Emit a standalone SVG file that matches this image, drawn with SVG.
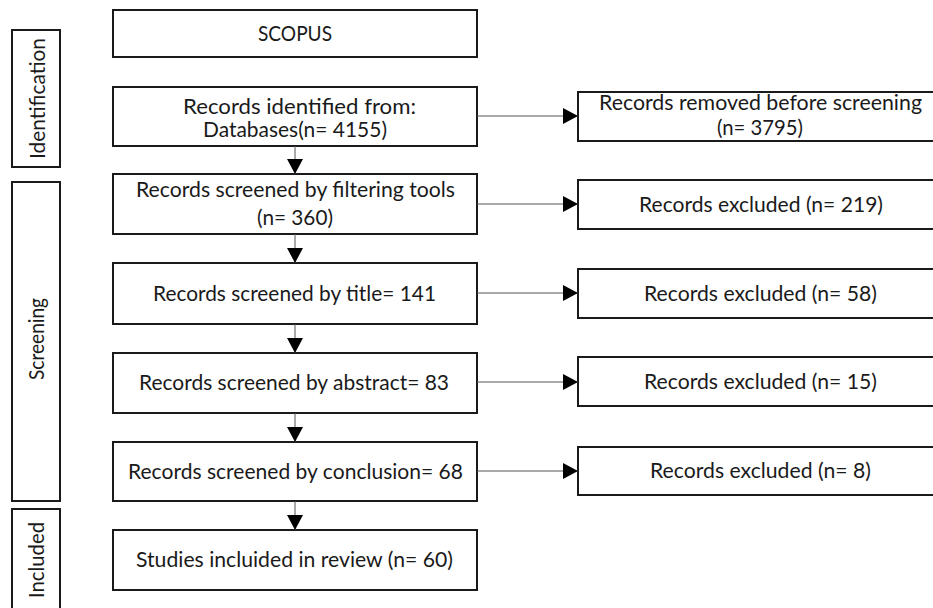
<svg xmlns="http://www.w3.org/2000/svg" width="933" height="608" viewBox="0 0 933 608">
<defs>
<style>
.box{fill:#fff;stroke:#1a1a1a;stroke-width:2}
.t{font-family:Lato,"Open Sans","Liberation Sans",sans-serif;font-size:21px;fill:#1a1a1a;text-anchor:middle}
.c{stroke:#555;stroke-width:1;fill:none}
</style>
<marker id="ah" markerUnits="userSpaceOnUse" markerWidth="15" markerHeight="16" refX="15" refY="8" orient="auto" viewBox="0 0 15 16">
<path d="M0,0 L15,8 L0,16 z" fill="#000"/>
</marker>
</defs>
<rect width="933" height="608" fill="#fff"/>

<g id="phase-identification">
<rect class="box" x="12" y="30" width="48" height="137"/>
<text class="t" transform="translate(45,98.5) rotate(-90)" textLength="121" lengthAdjust="spacingAndGlyphs">Identification</text>
</g>
<g id="phase-screening">
<rect class="box" x="12" y="182" width="48" height="319"/>
<text class="t" transform="translate(44,339) rotate(-90)" textLength="82" lengthAdjust="spacingAndGlyphs">Screening</text>
</g>
<g id="phase-included">
<rect class="box" x="12" y="509" width="48" height="110"/>
<text class="t" transform="translate(44,560) rotate(-90)" textLength="76" lengthAdjust="spacingAndGlyphs">Included</text>
</g>

<g id="scopus">
<rect class="box" x="113" y="10" width="364" height="47"/>
<text class="t" x="295" y="41" textLength="74" lengthAdjust="spacingAndGlyphs">SCOPUS</text>
</g>
<g id="identified">
<rect class="box" x="113" y="87" width="364" height="59"/>
<text class="t" x="299.5" y="114" textLength="233" lengthAdjust="spacingAndGlyphs">Records identified from:</text>
<text class="t" x="295" y="137" textLength="184" lengthAdjust="spacingAndGlyphs">Databases(n= 4155)</text>
</g>
<g id="filtering">
<rect class="box" x="113" y="174" width="364" height="60"/>
<text class="t" x="295.5" y="197" textLength="319" lengthAdjust="spacingAndGlyphs">Records screened by filtering tools</text>
<text class="t" x="295" y="225" textLength="76" lengthAdjust="spacingAndGlyphs">(n= 360)</text>
</g>
<g id="title">
<rect class="box" x="113" y="263" width="364" height="61"/>
<text class="t" x="294.5" y="301" textLength="283" lengthAdjust="spacingAndGlyphs">Records screened by title= 141</text>
</g>
<g id="abstract">
<rect class="box" x="113" y="353" width="364" height="60"/>
<text class="t" x="294" y="390" textLength="310" lengthAdjust="spacingAndGlyphs">Records screened by abstract= 83</text>
</g>
<g id="conclusion">
<rect class="box" x="113" y="442" width="364" height="59"/>
<text class="t" x="295.5" y="479" textLength="335" lengthAdjust="spacingAndGlyphs">Records screened by conclusion= 68</text>
</g>
<g id="studies">
<rect class="box" x="113" y="530" width="364" height="60"/>
<text class="t" x="294.5" y="567" textLength="317" lengthAdjust="spacingAndGlyphs">Studies incluided in review (n= 60)</text>
</g>

<g id="removed">
<rect class="box" x="578" y="92" width="366" height="49"/>
<text class="t" x="760.5" y="110" textLength="323" lengthAdjust="spacingAndGlyphs">Records removed before screening</text>
<text class="t" x="760" y="135" textLength="86" lengthAdjust="spacingAndGlyphs">(n= 3795)</text>
</g>
<g id="excluded-219">
<rect class="box" x="578" y="180" width="366" height="49"/>
<text class="t" x="761" y="212" textLength="244" lengthAdjust="spacingAndGlyphs">Records excluded (n= 219)</text>
</g>
<g id="excluded-58">
<rect class="box" x="578" y="269" width="366" height="49"/>
<text class="t" x="760.5" y="301" textLength="233" lengthAdjust="spacingAndGlyphs">Records excluded (n= 58)</text>
</g>
<g id="excluded-15">
<rect class="box" x="578" y="357" width="366" height="49"/>
<text class="t" x="760.5" y="389" textLength="233" lengthAdjust="spacingAndGlyphs">Records excluded (n= 15)</text>
</g>
<g id="excluded-8">
<rect class="box" x="578" y="447" width="366" height="48"/>
<text class="t" x="760.5" y="478" textLength="221" lengthAdjust="spacingAndGlyphs">Records excluded (n= 8)</text>
</g>

<g id="connectors">
<line class="c" x1="295" y1="146" x2="295" y2="174" marker-end="url(#ah)"/>
<line class="c" x1="295" y1="234" x2="295" y2="263" marker-end="url(#ah)"/>
<line class="c" x1="295" y1="324" x2="295" y2="353" marker-end="url(#ah)"/>
<line class="c" x1="295" y1="413" x2="295" y2="442" marker-end="url(#ah)"/>
<line class="c" x1="295" y1="501" x2="295" y2="530" marker-end="url(#ah)"/>
<line class="c" x1="477" y1="116" x2="578" y2="116" marker-end="url(#ah)"/>
<line class="c" x1="477" y1="204" x2="578" y2="204" marker-end="url(#ah)"/>
<line class="c" x1="477" y1="293" x2="578" y2="293" marker-end="url(#ah)"/>
<line class="c" x1="477" y1="382" x2="578" y2="382" marker-end="url(#ah)"/>
<line class="c" x1="477" y1="471" x2="578" y2="471" marker-end="url(#ah)"/>
</g>
</svg>
